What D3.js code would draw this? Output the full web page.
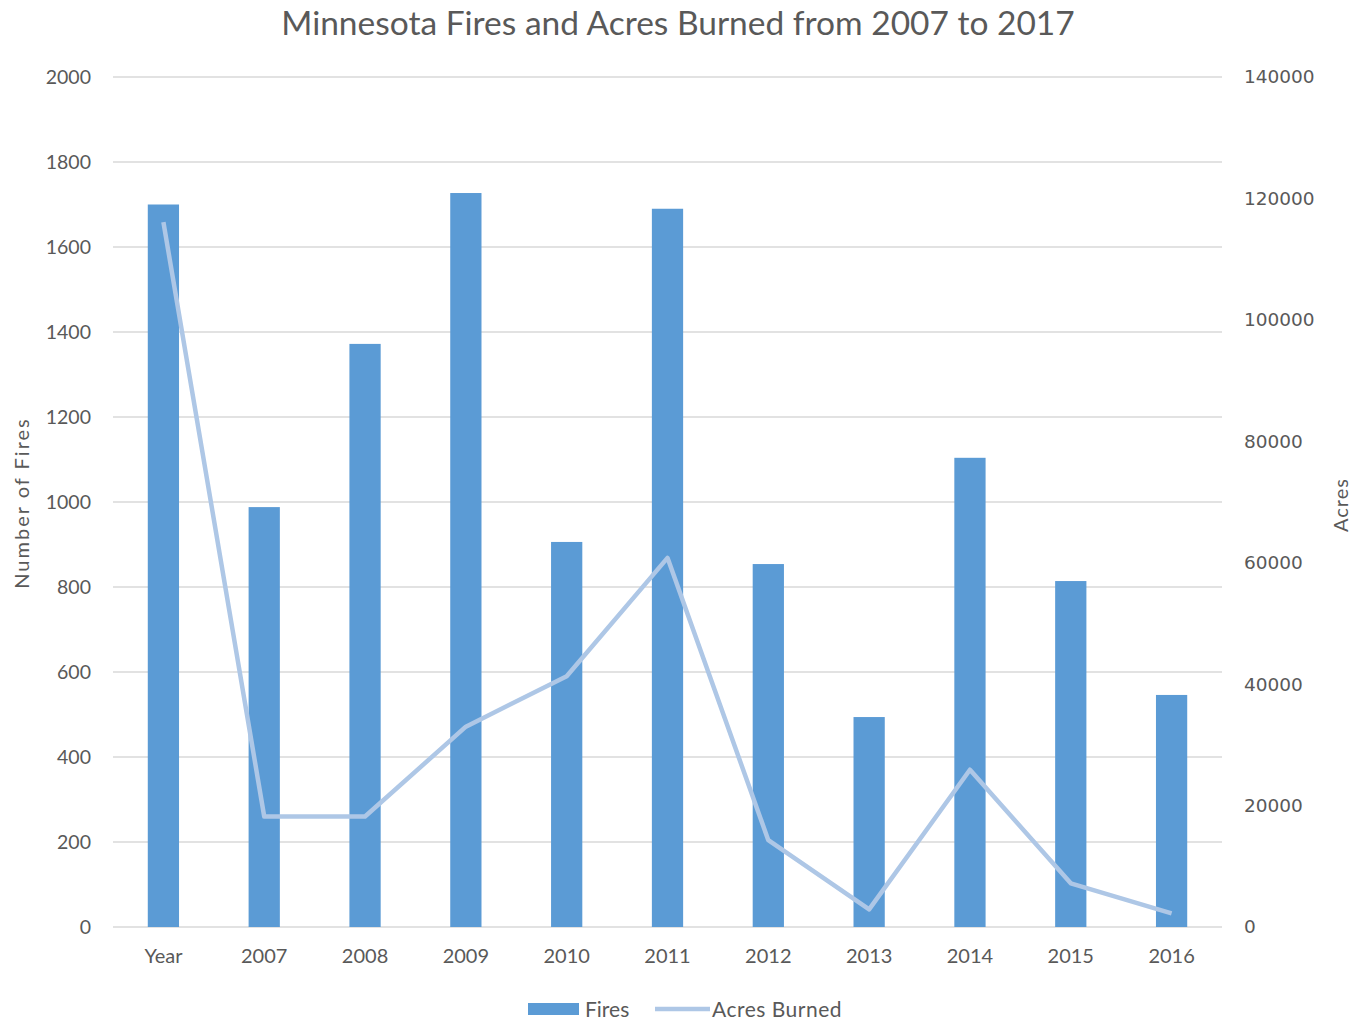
<!DOCTYPE html>
<html>
<head>
<meta charset="utf-8">
<script src="https://cdn.jsdelivr.net/npm/d3@7"></script>
<style>
  body { margin: 0; background: #fff; }
  text { font-family: Lato, "Open Sans", sans-serif; fill: #595959; }
</style>
</head>
<body>
<div id="chart"></div>
<script>
// data
const categories = ["Year", "2007", "2008", "2009", "2010", "2011", "2012", "2013", "2014", "2015", "2016"];
const fires = [1700, 988, 1372, 1727, 906, 1690, 854, 494, 1104, 814, 546];
const acres = [116100, 18200, 18200, 33000, 41300, 60800, 14300, 2900, 25900, 7200, 2250];
const leftTicks = [0, 200, 400, 600, 800, 1000, 1200, 1400, 1600, 1800, 2000];
const rightTicks = [0, 20000, 40000, 60000, 80000, 100000, 120000, 140000];

const W = 1356, H = 1022;
const margin = { top: 77, right: 134, bottom: 95, left: 113 },
    width = W - margin.left - margin.right,
    height = H - margin.top - margin.bottom;

const svg = d3.select("#chart")
    .append("svg")
    .attr("width", W)
    .attr("height", H);

// title
svg.append("text")
    .attr("x", 678)
    .attr("y", 35)
    .attr("text-anchor", "middle")
    .style("font-size", "33.5px")
    .text("Minnesota Fires and Acres Burned from 2007 to 2017");

const g = svg.append("g")
    .attr("transform", `translate(${margin.left}, ${margin.top})`);

const x = d3.scaleBand()
    .domain(categories)
    .range([0, width])
    .paddingInner(0.69)
    .paddingOuter(0.345);

const y = d3.scaleLinear().domain([0, 2000]).range([height, 0]);
const y2 = d3.scaleLinear().domain([0, 140000]).range([height, 0]);

// gridlines
g.append("g")
    .selectAll("line")
    .data(leftTicks)
    .join("line")
    .attr("x1", 0)
    .attr("x2", width)
    .attr("y1", d => y(d))
    .attr("y2", d => y(d))
    .attr("stroke", "#d9d9d9")
    .attr("stroke-width", 1.3);

// left axis
const yAxis = g.append("g")
    .call(d3.axisLeft(y).tickValues(leftTicks).tickFormat(d3.format("d")).tickSize(0).tickPadding(22));
yAxis.select(".domain").remove();
yAxis.selectAll("text").style("font-size", "19.5px").attr("fill", "#595959");

// right axis
const yAxis2 = g.append("g")
    .attr("transform", `translate(${width}, 0)`)
    .call(d3.axisRight(y2).tickValues(rightTicks).tickFormat(d3.format("d")).tickSize(0).tickPadding(22));
yAxis2.select(".domain").remove();
yAxis2.selectAll("text")
    .style("font-family", "'DejaVu Sans', Verdana, sans-serif")
    .style("font-size", "18.5px")
    .attr("fill", "#595959");

// x axis
const xAxis = g.append("g")
    .attr("transform", `translate(0, ${height})`)
    .call(d3.axisBottom(x).tickSize(0).tickPadding(22));
xAxis.select(".domain").remove();
xAxis.selectAll("text").style("font-size", "20px").attr("fill", "#595959");

// bars
g.append("g")
    .selectAll("rect")
    .data(categories)
    .join("rect")
    .attr("x", d => x(d))
    .attr("width", x.bandwidth())
    .attr("y", (d, i) => y(fires[i]))
    .attr("height", (d, i) => height - y(fires[i]))
    .attr("fill", "#5b9bd5");

// line
const line = d3.line()
    .x((d, i) => x(categories[i]) + x.bandwidth() / 2)
    .y(d => y2(d));

g.append("path")
    .datum(acres)
    .attr("d", line)
    .attr("fill", "none")
    .attr("stroke", "#aec7e6")
    .attr("stroke-width", 4.5)
    .attr("stroke-linejoin", "round");

// axis titles
svg.append("text")
    .attr("transform", "translate(29, 503) rotate(-90)")
    .attr("text-anchor", "middle")
    .style("font-size", "20px")
    .style("letter-spacing", "2px")
    .text("Number  of Fires");

svg.append("text")
    .attr("transform", "translate(1348, 505) rotate(-90)")
    .attr("text-anchor", "middle")
    .style("font-size", "20px")
    .style("letter-spacing", "1px")
    .text("Acres");

// legend
const legend = svg.append("g");
legend.append("rect")
    .attr("x", 528).attr("y", 1003)
    .attr("width", 51).attr("height", 12)
    .attr("fill", "#5b9bd5");
legend.append("text")
    .attr("x", 585).attr("y", 1017)
    .style("font-size", "21px")
    .text("Fires");
legend.append("line")
    .attr("x1", 655).attr("x2", 710)
    .attr("y1", 1009).attr("y2", 1009)
    .attr("stroke", "#aec7e6")
    .attr("stroke-width", 4.5);
legend.append("text")
    .attr("x", 712).attr("y", 1017)
    .style("font-size", "21px")
    .style("letter-spacing", "0.5px")
    .text("Acres Burned");
</script>
</body>
</html>
